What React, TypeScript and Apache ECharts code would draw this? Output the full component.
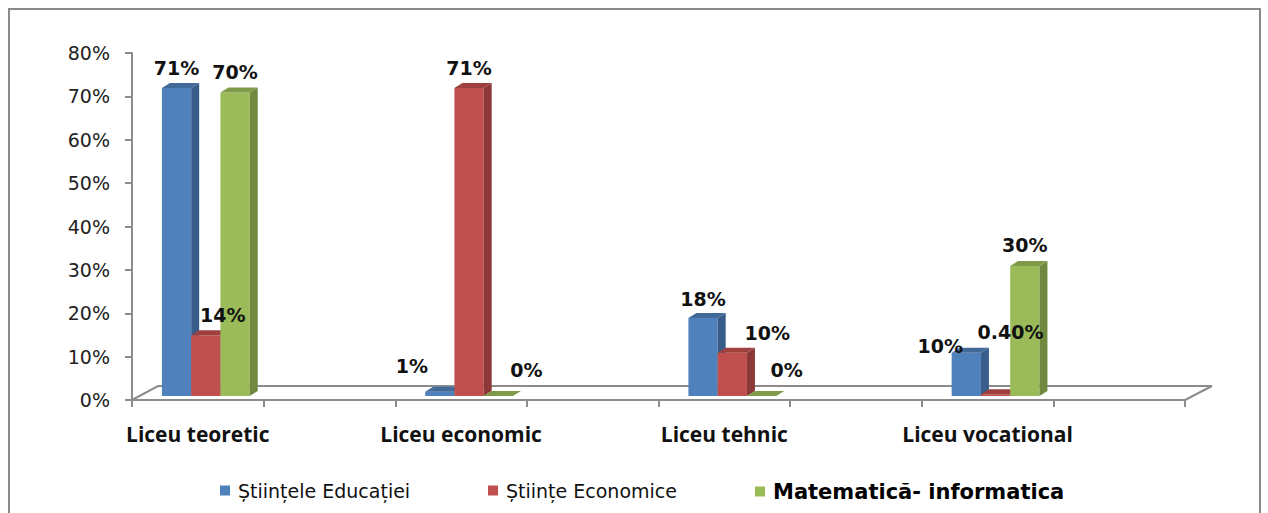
import React, { useEffect, useRef } from "react";
import * as echarts from "echarts";

const categories = ["Liceu teoretic", "Liceu economic", "Liceu tehnic", "Liceu vocational"];
const seriesNames = ["Științele Educației", "Științe Economice", "Matematică- informatica"];
const stiinteleEducatiei = [71, 1, 18, 10];
const stiinteEconomice = [14, 71, 10, 0.4];
const matematicaInformatica = [70, 0, 0, 30];
const yMin = 0;
const yMax = 80;
const yStep = 10;

// styling / layout (not data)
const frontColors = ["#4F81BD", "#C0504D", "#9BBB59"];
const sideColors = ["#385D8A", "#8C3836", "#71893F"];
const topColors = ["#41699A", "#9E403D", "#7F9A49"];
const labelNudges = [
  [[0, 0], [-28, -6], [0, 1], [-26, 13]],
  [[17, 0], [0, 0], [35, 0], [15, -42]],
  [[0, 0], [28, -6], [25, -6], [0, -1]],
];
const DEPTH_X = 8;
const DEPTH_Y = -5;
const SHIFT_X = 8;
const SHIFT_Y = -4;

function fmt(v: number) {
  if (v > 0 && v < 1) return v.toFixed(2) + "%";
  return Math.round(v) + "%";
}

export default function App() {
  const ref = useRef<HTMLDivElement>(null);
  useEffect(() => {
    if (!ref.current) return;
    const chart = echarts.init(ref.current, undefined, { renderer: "svg" });
    const slotCats: string[] = [];
    categories.forEach((c) => {
      slotCats.push(c);
      slotCats.push("");
    });
    const allSeries = [stiinteleEducatiei, stiinteEconomice, matematicaInformatica];
    const axisGray = "#8C8C8C";

    const series = allSeries.map((vals, sIdx) => ({
      type: "custom",
      name: seriesNames[sIdx],
      itemStyle: { color: frontColors[sIdx] },
      data: vals.map((v, i) => [i * 2, v, i]),
      renderItem: (params: any, api: any) => {
        const slot = api.value(0);
        const v = api.value(1);
        const ci = api.value(2);
        const base = api.coord([slot, 0]);
        const top = api.coord([slot, v]);
        const band = api.size([1, 0])[0];
        const group = band * 0.667;
        const bw = group / 3;
        const x0 = base[0] - group / 2 + sIdx * bw + SHIFT_X;
        const yb = base[1] + SHIFT_Y;
        const yt = top[1] + SHIFT_Y;
        const nudge = labelNudges[sIdx][ci];
        return {
          type: "group",
          children: [
            {
              type: "rect",
              z2: sIdx * 10 + 1,
              shape: { x: x0, y: yt, width: bw, height: yb - yt },
              style: { fill: frontColors[sIdx] },
            },
            {
              type: "polygon",
              z2: sIdx * 10 + 2,
              shape: {
                points: [
                  [x0 + bw, yt],
                  [x0 + bw + DEPTH_X, yt + DEPTH_Y],
                  [x0 + bw + DEPTH_X, yb + DEPTH_Y],
                  [x0 + bw, yb],
                ],
              },
              style: { fill: sideColors[sIdx] },
            },
            {
              type: "polygon",
              z2: sIdx * 10 + 3,
              shape: {
                points: [
                  [x0, yt],
                  [x0 + DEPTH_X, yt + DEPTH_Y],
                  [x0 + bw + DEPTH_X, yt + DEPTH_Y],
                  [x0 + bw, yt],
                ],
              },
              style: { fill: topColors[sIdx] },
            },
            {
              type: "text",
              z2: 100,
              x: x0 + bw / 2 + nudge[0],
              y: yt - 20 + nudge[1],
              style: {
                text: fmt(v),
                align: "center",
                verticalAlign: "middle",
                fontFamily: "DejaVu Sans",
                fontWeight: "bold",
                fontSize: 19,
                fill: "#111",
              },
            },
          ],
        };
      },
    }));

    const legendBase = {
      orient: "horizontal",
      top: 481,
      padding: 0,
      itemWidth: 10,
      itemHeight: 10,
      itemGap: 0,
      icon: "rect",
      selectedMode: false,
    };

    chart.setOption({
      animation: false,
      backgroundColor: "#ffffff",
      grid: { left: 132, right: 83, top: 53, bottom: 113, containLabel: false },
      xAxis: {
        type: "category",
        data: slotCats,
        boundaryGap: true,
        axisLine: { show: true, lineStyle: { color: axisGray, width: 2 } },
        axisTick: { show: true, interval: 0, length: 7, lineStyle: { color: axisGray, width: 2 } },
        axisLabel: {
          interval: 0,
          margin: 23,
          fontFamily: "Open Sans",
          fontWeight: "bold",
          fontSize: 21,
          color: "#111",
        },
        splitLine: { show: false },
      },
      yAxis: {
        type: "value",
        min: yMin,
        max: yMax,
        interval: yStep,
        axisLine: { show: true, lineStyle: { color: axisGray, width: 2 } },
        axisTick: { show: true, length: 7, lineStyle: { color: axisGray, width: 2 } },
        axisLabel: {
          formatter: "{value}%",
          margin: 22,
          fontFamily: "DejaVu Sans",
          fontSize: 19,
          color: "#222",
        },
        splitLine: { show: false },
      },
      legend: [
        {
          ...legendBase,
          left: 220,
          data: [
            {
              name: seriesNames[0],
              textStyle: { fontFamily: "DejaVu Sans", fontSize: 19, color: "#111", padding: [0, 0, 0, 3] },
            },
          ],
        },
        {
          ...legendBase,
          left: 488,
          data: [
            {
              name: seriesNames[1],
              textStyle: { fontFamily: "DejaVu Sans", fontSize: 19, color: "#111", padding: [0, 0, 0, 3] },
            },
          ],
        },
        {
          ...legendBase,
          left: 755,
          data: [
            {
              name: seriesNames[2],
              textStyle: {
                fontFamily: "DejaVu Sans",
                fontWeight: "bold",
                fontSize: 21,
                color: "#000",
                padding: [0, 0, 0, 3],
              },
            },
          ],
        },
      ],
      graphic: [
        {
          type: "rect",
          z: 1,
          shape: { x: 9, y: 9, width: 1251, height: 600 },
          style: { fill: "none", stroke: "#8A8A8A", lineWidth: 2 },
        },
        {
          type: "polyline",
          z: 1,
          shape: { points: [[132, 400], [158, 386], [1212, 386], [1185, 400]] },
          style: { fill: "none", stroke: axisGray, lineWidth: 2 },
        },
      ],
      series,
    });
    return () => chart.dispose();
  }, []);
  return (
    <div
      ref={ref}
      style={{ position: "fixed", left: 0, top: 0, width: 1268, height: 513, background: "#fff" }}
    />
  );
}
